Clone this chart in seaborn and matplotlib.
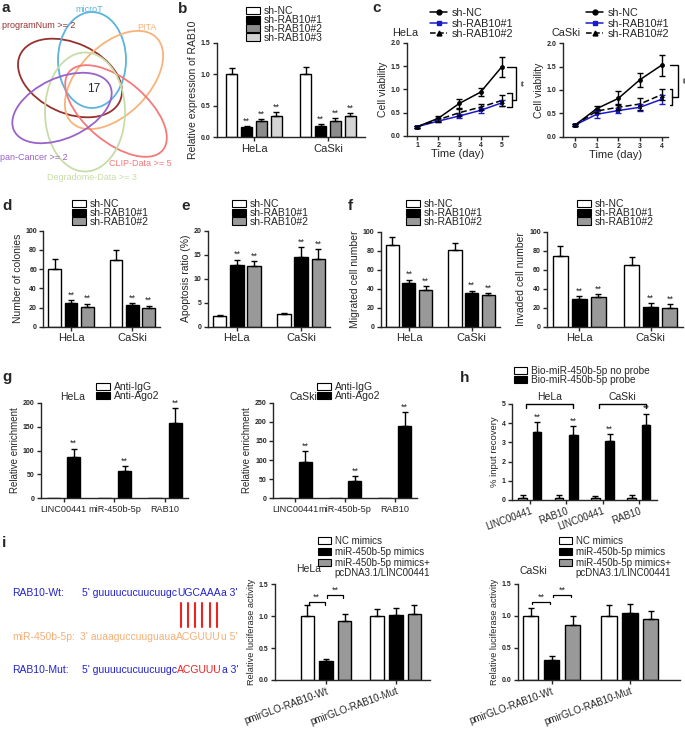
import numpy as np
import pandas as pd
import matplotlib
matplotlib.use("Agg")
import matplotlib.pyplot as plt
import matplotlib.patches as mpatches
from matplotlib.lines import Line2D
import seaborn as sns

sns.set_style("ticks")
plt.rcParams["font.family"] = ["Liberation Sans", "DejaVu Sans"]
plt.rcParams["axes.linewidth"] = 1

# ---------------- data ----------------
# a: venn
venn_names = ["programNum >= 2", "microT", "PITA", "CLIP-Data >= 5", "Degradome-Data >= 3", "pan-Cancer >= 2"]
venn_colors = ["#96322D", "#5AB4DC", "#F8B37A", "#F47A7A", "#C8DCA8", "#9A63C8"]
venn_common = 17

# b
b_cells = ["HeLa", "CaSki"]
b_groups = ["sh-NC", "sh-RAB10#1", "sh-RAB10#2", "sh-RAB10#3"]
b_vals = [[1.0, 1.0], [0.16, 0.18], [0.26, 0.26], [0.34, 0.34]]
b_errs = [[0.10, 0.11], [0.02, 0.03], [0.03, 0.04], [0.06, 0.04]]

# c
c_groups = ["sh-NC", "sh-RAB10#1", "sh-RAB10#2"]
c_hela_days = [1, 2, 3, 4, 5]
c_hela_vals = [[0.2, 0.38, 0.70, 0.94, 1.48], [0.2, 0.32, 0.43, 0.55, 0.71], [0.2, 0.35, 0.50, 0.62, 0.76]]
c_hela_errs = [[0.02, 0.05, 0.10, 0.08, 0.22], [0.02, 0.03, 0.05, 0.05, 0.06], [0.02, 0.04, 0.08, 0.07, 0.12]]
c_caski_days = [0, 1, 2, 3, 4]
c_caski_vals = [[0.25, 0.60, 0.82, 1.22, 1.53], [0.25, 0.48, 0.56, 0.63, 0.80], [0.25, 0.55, 0.63, 0.70, 0.90]]
c_caski_errs = [[0.03, 0.05, 0.15, 0.15, 0.23], [0.03, 0.08, 0.06, 0.08, 0.10], [0.03, 0.05, 0.06, 0.12, 0.12]]

# d, e, f
def_groups = ["sh-NC", "sh-RAB10#1", "sh-RAB10#2"]
d_vals = [[60, 70], [25, 22.5], [21, 20]]
d_errs = [[11, 10], [3, 2], [3, 2]]
e_vals = [[2.3, 2.6], [12.8, 14.6], [12.7, 14.1]]
e_errs = [[0.2, 0.2], [1.2, 2.0], [1.0, 2.0]]
f_mig_vals = [[86.5, 81], [45.5, 35], [39, 33]]
f_mig_errs = [[8, 7], [4, 3], [4, 2.5]]
f_inv_vals = [[74.5, 65], [28.8, 21], [30.9, 19.6]]
f_inv_errs = [[10, 8], [3, 4], [3, 4]]

# g
g_genes = ["LINC00441", "miR-450b-5p", "RAB10"]
g_groups = ["Anti-IgG", "Anti-Ago2"]
g_hela_vals = [[1, 1, 1], [86, 57, 158]]
g_hela_errs = [[0, 0, 0], [18, 10, 30]]
g_caski_vals = [[1, 1, 1], [95, 44, 190]]
g_caski_errs = [[0, 0, 0], [28, 14, 35]]

# h
h_keys = ["HeLa LINC00441", "HeLa RAB10", "CaSki LINC00441", "CaSki RAB10"]
h_ticklabels = ["LINC00441", "RAB10", "LINC00441", "RAB10"]
h_groups = ["Bio-miR-450b-5p no probe", "Bio-miR-450b-5p probe"]
h_vals = [[0.1, 0.1, 0.1, 0.1], [3.55, 3.38, 3.05, 3.9]]
h_errs = [[0.15, 0.17, 0.12, 0.17], [0.5, 0.45, 0.38, 0.6]]

# i
i_constructs = ["pmirGLO-RAB10-Wt", "pmirGLO-RAB10-Mut"]
i_groups = ["NC mimics", "miR-450b-5p mimics", "miR-450b-5p mimics+\npcDNA3.1/LINC00441"]
i_hela_vals = [[1.0, 1.0], [0.29, 1.02], [0.93, 1.04]]
i_hela_errs = [[0.17, 0.12], [0.04, 0.11], [0.10, 0.13]]
i_caski_vals = [[1.0, 1.0], [0.32, 1.04], [0.86, 0.95]]
i_caski_errs = [[0.12, 0.17], [0.05, 0.15], [0.14, 0.13]]

seq_wt = ["5' guuuucucuucuugc", "UGCAAA", "a 3'"]
seq_mir = ["3' auaaguccuuguaua", "ACGUUU", "u 5'"]
seq_mut = ["5' guuuucucuucuugc", "ACGUUU", "a 3'"]

# ---------------- figure ----------------
W, H = 685, 729
fig = plt.figure(figsize=(W / 100, H / 100), dpi=100)


def fx(x):
    return x / W


def fy(y):
    return 1 - y / H


def make_ax(l, t, r, b):
    return fig.add_axes([fx(l), fy(b), (r - l) / W, (b - t) / H])


def style_ax(ax, ylim, yticks, fmt, ylabel, ylsize=7):
    sns.despine(ax=ax)
    ax.set_ylim(*ylim)
    ax.set_yticks(yticks)
    ax.set_yticklabels([fmt.format(v) for v in yticks], fontsize=5, fontweight="bold")
    ax.tick_params(axis="both", length=3, width=1, pad=1.5)
    ax.set_ylabel(ylabel, fontsize=ylsize, labelpad=2)
    ax.set_xlabel("")


def bar_panel(ax, cats, groups, vals, errs, colors, gap, xlim, star_idx=(), star_pad=0.0, star_size=6.5):
    rows = []
    for g, v, e in zip(groups, vals, errs):
        for c, vv, ee in zip(cats, v, e):
            rows.append({"cat": c, "grp": g, "val": vv, "err": ee})
    df = pd.DataFrame(rows)
    sns.barplot(data=df, x="cat", y="val", hue="grp", hue_order=groups, order=cats,
                palette=colors, edgecolor="black", linewidth=1, gap=gap,
                errorbar=None, legend=False, ax=ax)
    for k, (cont, v, e) in enumerate(zip(ax.containers, vals, errs)):
        for bar, vv, ee in zip(cont, v, e):
            xc = bar.get_x() + bar.get_width() / 2
            if ee > 0:
                ax.errorbar(xc, vv, yerr=[[0], [ee]], color="black", lw=1,
                            capsize=2.5, capthick=1, zorder=1)
            if k in star_idx:
                ax.text(xc, vv + ee + star_pad, "**", ha="center", va="bottom", fontsize=star_size)
    ax.set_xlim(*xlim)


def patch_handles(colors):
    return [mpatches.Patch(facecolor=c, edgecolor="black", linewidth=0.8) for c in colors]


def fig_legend(handles, labels, x, y, size=7.5, spacing=-0.1, hl=1.3):
    fig.legend(handles, labels, loc="upper left", bbox_to_anchor=(fx(x), fy(y)),
               frameon=False, fontsize=size, handlelength=hl, handleheight=0.75,
               handletextpad=0.4, labelspacing=spacing, borderpad=0, borderaxespad=0)


def panel_label(s, x, y):
    fig.text(fx(x), fy(y), s, fontsize=11, fontweight="bold", va="top", ha="left")


# ---------------- a: venn ----------------
axa = fig.add_axes([0, fy(185), 175 / W, 185 / H])
axa.set_xlim(0, 175)
axa.set_ylim(185, 0)
axa.axis("off")
ell_centers = [(70, 78), (92, 60), (114, 80), (116, 111), (85, 112), (62, 108)]
ell_sizes = [(110, 70), (68, 96), (120, 70), (122, 62), (80, 119), (106, 60)]
ell_angles = [25, 0, -45, 40, 0, -25]
for c, s, a, col in zip(ell_centers, ell_sizes, ell_angles, venn_colors):
    axa.add_patch(mpatches.Ellipse(c, s[0], s[1], angle=a, fill=False, edgecolor=col, lw=1.3))
venn_label_pos = [(2, 25, "left"), (89, 9, "center"), (147, 27, "center"),
                  (172, 164, "right"), (92, 177, "center"), (0, 158, "left")]
for (x, y, ha), name, col in zip(venn_label_pos, venn_names, venn_colors):
    axa.text(x, y, name, color=col, fontsize=6.5, ha=ha, va="center")
axa.text(94, 89, str(venn_common), fontsize=8.5, ha="center", va="center")

# ---------------- b ----------------
axb = make_ax(217, 42.7, 365, 137.3)
bar_panel(axb, b_cells, b_groups, b_vals, b_errs, ["white", "black", "#8c8c8c", "#d4d4d4"],
          0.25, (-0.5, 1.5), star_idx=(1, 2, 3), star_pad=0.01)
style_ax(axb, (0, 1.5), [0, 0.5, 1.0, 1.5], "{:.1f}", "Relative expression of RAB10", 7.5)
axb.tick_params(axis="x", labelsize=8)
fig_legend(patch_handles(["white", "black", "#8c8c8c", "#d4d4d4"]), b_groups, 246, 6)

# ---------------- c ----------------
c_styles = [("black", "o", ""), ("#1a1acc", "s", ""), ("black", "^", (4, 2))]


def line_panel(ax, days, vals, errs):
    rows = []
    for g, v in zip(c_groups, vals):
        for d, vv in zip(days, v):
            rows.append({"day": d, "val": vv, "grp": g})
    df = pd.DataFrame(rows)
    sns.lineplot(data=df, x="day", y="val", hue="grp", style="grp", hue_order=c_groups,
                 style_order=c_groups, palette=[s[0] for s in c_styles],
                 markers=[s[1] for s in c_styles], dashes=[s[2] for s in c_styles],
                 markersize=3.5, markeredgewidth=0, lw=1.1, legend=False, ax=ax)
    for (col, m, ds), v, e in zip(c_styles, vals, errs):
        ax.errorbar(days, v, yerr=e, fmt="none", ecolor=col, elinewidth=1, capsize=2.5, capthick=1)
    ax.set_xticks(days)
    ax.set_xticklabels([str(d) for d in days], fontsize=5, fontweight="bold")


axc1 = make_ax(406.7, 42.7, 508, 136)
line_panel(axc1, c_hela_days, c_hela_vals, c_hela_errs)
style_ax(axc1, (0, 2), [0, 0.5, 1.0, 1.5, 2.0], "{:.1f}", "Cell viability", 7.5)
axc1.set_xlabel("Time (day)", fontsize=8, labelpad=0)
axc1.set_xlim(0.5, 5.3)

axc2 = make_ax(563, 43.3, 668, 136.7)
line_panel(axc2, c_caski_days, c_caski_vals, c_caski_errs)
style_ax(axc2, (0, 2), [0, 0.5, 1.0, 1.5, 2.0], "{:.1f}", "Cell viability", 7.5)
axc2.set_xlabel("Time (day)", fontsize=8, labelpad=0)
axc2.set_xlim(-0.56, 4.3)


def viability_bracket(ax, top, small_top, small_low, x0, x1, x2, xs, ys):
    kw = dict(color="black", lw=1, clip_on=False)
    mid = (small_top + small_low) / 2
    ax.plot([x0, x2, x2, x1], [top, top, mid, mid], **kw)
    ax.plot([x0, x1, x1, x0], [small_top, small_top, small_low, small_low], **kw)
    ax.text(xs, ys, "**", rotation=-90, fontsize=6.5, ha="center", va="center", clip_on=False)


viability_bracket(axc1, c_hela_vals[0][-1], 0.92, 0.62, 5.24, 5.47, 5.7, 5.85, 1.13)
viability_bracket(axc2, c_caski_vals[0][-1], 1.03, 0.67, 4.38, 4.5, 4.74, 4.92, 1.21)

line_handles = [Line2D([], [], color=c, marker=m, markersize=3.5, lw=1.1,
                       linestyle="--" if ds else "-") for c, m, ds in c_styles]
fig_legend(line_handles, c_groups, 430, 8, size=7.8, spacing=0.05, hl=1.6)
fig_legend(line_handles, c_groups, 586, 8, size=7.8, spacing=0.05, hl=1.6)
fig.text(fx(392), fy(33), "HeLa", fontsize=7.8, va="center")
fig.text(fx(552), fy(33), "CaSki", fontsize=7.8, va="center")

# ---------------- d, e, f ----------------
def_colors = ["white", "black", "#999999"]
axd = make_ax(43.3, 230.7, 160, 326.7)
bar_panel(axd, b_cells, def_groups, d_vals, d_errs, def_colors, 0.22, (-0.45, 1.45), star_idx=(1, 2), star_pad=0.5)
style_ax(axd, (0, 100), [0, 20, 40, 60, 80, 100], "{:d}", "Number of colonies", 7.5)
axd.tick_params(axis="x", labelsize=8)
fig_legend(patch_handles(def_colors), def_groups, 72, 199)

axe = make_ax(208, 230.7, 330, 326.7)
bar_panel(axe, b_cells, def_groups, e_vals, e_errs, def_colors, 0.22, (-0.45, 1.45), star_idx=(1, 2), star_pad=0.1)
style_ax(axe, (0, 20), [0, 5, 10, 15, 20], "{:d}", "Apoptosis ratio (%)", 7.5)
axe.tick_params(axis="x", labelsize=8)
fig_legend(patch_handles(def_colors), def_groups, 232, 199)

axf1 = make_ax(380.7, 231.7, 500, 326.7)
bar_panel(axf1, b_cells, def_groups, f_mig_vals, f_mig_errs, def_colors, 0.22, (-0.45, 1.45), star_idx=(1, 2), star_pad=0.5)
style_ax(axf1, (0, 100), [0, 20, 40, 60, 80, 100], "{:d}", "Migrated cell number", 7.5)
axf1.tick_params(axis="x", labelsize=8)
fig_legend(patch_handles(def_colors), def_groups, 406, 199)

axf2 = make_ax(547, 231.7, 683, 326.7)
bar_panel(axf2, b_cells, def_groups, f_inv_vals, f_inv_errs, def_colors, 0.22, (-0.45, 1.45), star_idx=(1, 2), star_pad=0.5)
style_ax(axf2, (0, 100), [0, 20, 40, 60, 80, 100], "{:d}", "Invaded cell number", 7.5)
axf2.tick_params(axis="x", labelsize=8)
fig_legend(patch_handles(def_colors), def_groups, 577, 199)

# ---------------- g ----------------
g_colors = ["white", "black"]
axg1 = make_ax(40.7, 402.7, 188, 498.3)
bar_panel(axg1, g_genes, g_groups, g_hela_vals, g_hela_errs, g_colors, 0.35, (-0.45, 2.45), star_idx=(1,), star_pad=1)
style_ax(axg1, (0, 200), [0, 50, 100, 150, 200], "{:d}", "Relative enrichment", 7)
axg1.tick_params(axis="x", labelsize=6.6)
fig_legend(patch_handles(g_colors), g_groups, 96, 382)
fig.text(fx(60), fy(397), "HeLa", fontsize=7.5, va="center")

axg2 = make_ax(273, 402.7, 417, 498.3)
bar_panel(axg2, g_genes, g_groups, g_caski_vals, g_caski_errs, g_colors, 0.35, (-0.45, 2.45), star_idx=(1,), star_pad=1)
style_ax(axg2, (0, 250), [0, 50, 100, 150, 200, 250], "{:d}", "Relative enrichment", 7)
axg2.tick_params(axis="x", labelsize=6.6)
fig_legend(patch_handles(g_colors), g_groups, 317, 382)
fig.text(fx(289), fy(397), "CaSki", fontsize=7.5, va="center")

# ---------------- h ----------------
axh = make_ax(511.7, 404, 657, 500)
bar_panel(axh, h_keys, h_groups, h_vals, h_errs, g_colors, 0.4, (-0.5, 3.5), star_idx=(1,), star_pad=0.02)
style_ax(axh, (0, 5), [0, 1, 2, 3, 4, 5], "{:d}", "% input recovery", 6.8)
axh.set_xticks(range(len(h_keys)))
axh.set_xticklabels(h_ticklabels, rotation=20, fontsize=7, ha="right", rotation_mode="anchor")
for (a, b), name in zip([(-0.1, 1.2), (1.9, 3.2)], b_cells):
    axh.plot([a, a, b, b], [4.8, 5.0, 5.0, 4.8], color="black", lw=1, clip_on=False)
    axh.text((a + b) / 2, 5.1, name, ha="center", va="bottom", fontsize=7.5, clip_on=False)
fig_legend(patch_handles(g_colors), h_groups, 514, 366, size=7.3)

# ---------------- i ----------------
i_colors = ["white", "black", "#999999"]


def luc_panel(ax, vals, errs, xlim, title_xy, br):
    bar_panel(ax, i_constructs, i_groups, vals, errs, i_colors, 0.27, xlim)
    style_ax(ax, (0, 1.5), [0, 0.5, 1.0, 1.5], "{:.1f}", "Relative luciferase activity", 6.6)
    ax.set_xticks([0, 1])
    ax.set_xticklabels(i_constructs, rotation=20, fontsize=7, ha="right", rotation_mode="anchor")
    bars = [ax.containers[k][0] for k in range(3)]
    xs = [b.get_x() + b.get_width() / 2 for b in bars]
    for (i0, i1), yb in zip([(0, 1), (1, 2)], br):
        a, b = xs[i0] + 0.02, xs[i1] - 0.02
        ax.plot([a, a, b, b], [yb - 0.04, yb, yb, yb - 0.04], color="black", lw=0.9, clip_on=False)
        ax.text((a + b) / 2, yb, "**", ha="center", va="bottom", fontsize=6.5)
    fig.text(fx(title_xy[0]), fy(title_xy[1]), title_xy[2], fontsize=7.5, va="center")


i_leg_handles = patch_handles(i_colors) + [mpatches.Patch(facecolor="none", edgecolor="none")]
i_leg_labels = i_groups[:2] + i_groups[2].split("\n")

axi1 = make_ax(275, 584.3, 430, 680)
luc_panel(axi1, i_hela_vals, i_hela_errs, (-0.73, 1.49), (296, 569, "HeLa"), (1.22, 1.33))
fig_legend(i_leg_handles, i_leg_labels, 318, 536, size=7, spacing=0.08)

axi2 = make_ax(518, 584, 680, 680)
luc_panel(axi2, i_caski_vals, i_caski_errs, (-0.43, 1.64), (519, 571, "CaSki"), (1.22, 1.33))
fig_legend(i_leg_handles, i_leg_labels, 559, 536, size=7, spacing=0.08)

# sequences
blue = "#2222CC"
orange = "#F5B078"
red = "#EE2222"


def seq_line(label, x_lab, x_seq, y, segs, cols, lab_col):
    fig.text(fx(x_lab), fy(y), label, color=lab_col, fontsize=7.5, va="center")
    out = [fig.text(fx(x_seq), fy(y), segs[0], color=cols[0], fontsize=7.5, va="center")]
    for s, c in zip(segs[1:], cols[1:]):
        t = axa.annotate(s, xy=(1, 0), xycoords=out[-1], va="bottom", ha="left", color=c,
                         fontsize=7.5, annotation_clip=False)
        out.append(t)
    return out


wt = seq_line("RAB10-Wt:", 12, 82, 593, seq_wt, [blue, blue, blue], blue)
seq_line("miR-450b-5p:", 12, 80, 637, seq_mir, [orange, orange, orange], orange)
seq_line("RAB10-Mut:", 12, 82, 670, seq_mut, [blue, red, blue], blue)

renderer = fig.canvas.get_renderer()
bb = wt[1].get_window_extent(renderer)
for k in range(6):
    xp = bb.x0 + (k + 0.5) * bb.width / 6
    fig.add_artist(Line2D([xp / W, xp / W], [fy(603), fy(627)], color=red, lw=1.5))

# panel letters
for s, x, y in [("a", 2, 1), ("b", 178, 2), ("c", 372, 1), ("d", 2, 199), ("e", 181, 199),
                ("f", 348, 199), ("g", 2, 370), ("h", 460, 371), ("i", 2, 536)]:
    panel_label(s, x, y)

fig.savefig("out.png", dpi=100)
